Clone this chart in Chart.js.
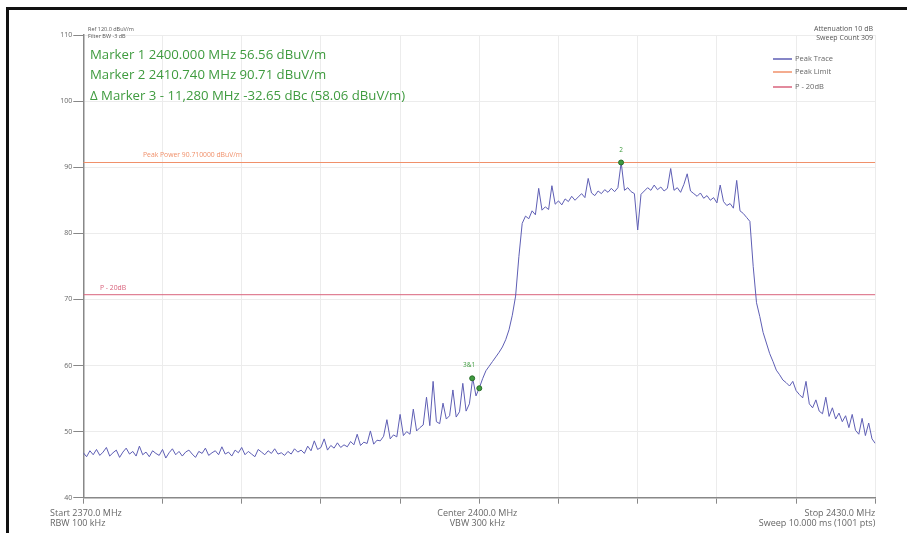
<!DOCTYPE html>
<html>
<head>
<meta charset="utf-8">
<script src="https://cdn.jsdelivr.net/npm/chart.js@4.4.0/dist/chart.umd.min.js"></script>
<style>
  html, body { margin: 0; padding: 0; background: #fff; }
  #wrap { position: relative; width: 907px; height: 533px; }
</style>
</head>
<body>
<div id="wrap"><canvas id="spec" width="907" height="533"></canvas></div>
<script>
// sweep grid (MHz)
const startFreq = 2370, stopFreq = 2430, freqStep = 0.25;

// peak trace, dBuV/m, one value per 0.25 MHz, 10 values per row
const peakTrace = [
  46.8, 46.2, 47.1, 46.5, 47.3, 46.4, 46.9, 47.6, 46.3, 46.8,
  47.2, 46.1, 46.9, 47.5, 46.6, 47.0, 46.3, 47.8, 46.5, 46.9,
  46.2, 47.1, 46.7, 46.4, 47.3, 46.0, 46.8, 47.4, 46.5, 47.0,
  46.3, 46.9, 47.2, 46.6, 46.1, 47.0, 46.7, 47.5, 46.4, 46.8,
  47.1, 46.5, 47.7, 46.6, 46.9, 46.3, 47.2, 46.8, 47.6, 46.5,
  47.0, 46.6, 46.2, 47.3, 46.9, 46.5, 47.1, 46.7, 47.4, 46.6,
  46.8, 46.4, 47.0, 46.6, 47.4, 46.9, 47.2, 46.7, 47.8, 47.1,
  48.6, 47.3, 47.6, 48.9, 47.2, 47.9, 47.5, 48.3, 47.6, 48.0,
  47.7, 48.5, 48.0, 49.6, 47.9, 48.4, 48.2, 50.1, 48.1, 48.7,
  48.6, 49.3, 51.8, 48.9, 49.5, 49.2, 52.6, 49.4, 50.0, 49.6,
  53.4, 50.1, 50.6, 51.0, 55.2, 50.9, 57.6, 51.5, 51.2, 54.3,
  51.9, 52.4, 56.3, 52.2, 53.0, 57.3, 53.1, 54.2, 58.1, 55.4,
  56.6, 58.0, 59.2, 59.9, 60.6, 61.3, 62.0, 62.8, 63.9, 65.4,
  67.6, 70.5, 76.5, 81.5, 82.6, 82.2, 83.4, 82.8, 86.8, 83.5,
  84.0, 83.6, 87.2, 84.4, 84.9, 84.3, 85.2, 84.8, 85.6, 85.0,
  85.5, 86.0, 85.4, 88.3, 86.1, 85.7, 86.4, 86.0, 86.6, 86.2,
  86.8, 86.3, 86.9, 90.71, 86.5, 86.9, 86.3, 86.0, 80.5, 85.9,
  86.4, 86.9, 86.5, 87.3, 86.6, 87.0, 86.4, 86.8, 89.8, 86.5,
  86.9, 86.2, 87.4, 89.0, 86.4, 86.0, 85.6, 86.1, 85.3, 85.7,
  85.0, 85.4, 84.6, 87.3, 84.8, 84.2, 84.5, 83.8, 88.0, 83.4,
  83.0, 82.4, 81.8, 75.0, 69.5, 67.4, 65.0, 63.4, 61.8, 60.6,
  59.3, 58.6, 57.8, 57.4, 56.9, 57.6, 56.2, 55.6, 55.1, 57.6,
  54.2, 53.6, 54.8, 53.1, 52.7, 55.2, 52.3, 53.6, 51.9, 52.8,
  51.5, 52.4, 50.6, 52.6, 50.2, 49.6, 52.0, 49.4, 51.3, 48.9,
  48.2
];

const markerFreqs = [2400.000, 2410.740, 2399.460];
const markerLevels = [56.56, 90.71, 58.06];

const peakLimit = 90.71;
const p20Limit = 70.71;

const yTicks = [40, 50, 60, 70, 80, 90, 100, 110];
const xTicks = [2370, 2376, 2382, 2388, 2394, 2400, 2406, 2412, 2418, 2424, 2430];

const infoLeft = ['Ref 120.0 dBuV/m', 'Filter BW -3 dB'];
const infoRight = ['Attenuation 10 dB', 'Sweep Count 309'];
const markerText = [
  'Marker 1 2400.000 MHz 56.56 dBuV/m',
  'Marker 2 2410.740 MHz 90.71 dBuV/m',
  '\u0394 Marker 3 - 11,280 MHz -32.65 dBc (58.06 dBuV/m)'
];
const bottomLeft = ['Start 2370.0 MHz', 'RBW 100 kHz'];
const bottomCenter = ['Center 2400.0 MHz', 'VBW 300 kHz'];
const bottomRight = ['Stop 2430.0 MHz', 'Sweep 10.000 ms (1001 pts)'];

const traceColor = '#5e5eb4';
const limitColor = '#f0906a';
const p20Color = '#d9637c';
const markerColor = '#3f9b3f';
const FONT = '"Open Sans", "Noto Sans", sans-serif';

const tracePoints = peakTrace.map((v, i) => ({ x: startFreq + i * freqStep, y: v }));

const overlay = {
  id: 'overlay',
  beforeDraw(chart) {
    const ctx = chart.ctx;
    ctx.save();
    ctx.fillStyle = '#fff';
    ctx.fillRect(0, 0, chart.width, chart.height);
    ctx.restore();
  },
  afterDraw(chart) {
    const { ctx, scales: { x, y } } = chart;
    ctx.save();

    // screenshot frame
    ctx.fillStyle = '#111';
    ctx.fillRect(6, 7, 901, 3);
    ctx.fillRect(6, 7, 3, 526);

    ctx.textBaseline = 'middle';

    // instrument info
    ctx.fillStyle = '#555';
    ctx.font = '5.5px ' + FONT;
    ctx.textAlign = 'left';
    ctx.fillText(infoLeft[0], 88, 29);
    ctx.fillText(infoLeft[1], 88, 36);
    ctx.font = '7px ' + FONT;
    ctx.textAlign = 'right';
    ctx.fillText(infoRight[0], 873, 29);
    ctx.fillText(infoRight[1], 873, 38);

    // marker readouts
    ctx.fillStyle = markerColor;
    ctx.font = '13.2px ' + FONT;
    ctx.textAlign = 'left';
    [55, 75, 96].forEach((ty, i) => ctx.fillText(markerText[i], 90, ty));

    // legend
    ctx.font = '7.5px ' + FONT;
    const leg = [[traceColor, 'Peak Trace', 59], [limitColor, 'Peak Limit', 72], [p20Color, 'P - 20dB', 87]];
    leg.forEach(([c, t, ty]) => {
      ctx.strokeStyle = c;
      ctx.lineWidth = 1.5;
      ctx.beginPath();
      ctx.moveTo(773, ty);
      ctx.lineTo(792, ty);
      ctx.stroke();
      ctx.fillStyle = '#666';
      ctx.fillText(t, 795, ty);
    });

    // limit labels
    ctx.font = '6.8px ' + FONT;
    ctx.fillStyle = limitColor;
    ctx.fillText('Peak Power 90.710000 dBuV/m', 143, y.getPixelForValue(peakLimit) - 7);
    ctx.fillStyle = p20Color;
    ctx.fillText('P - 20dB', 100, y.getPixelForValue(p20Limit) - 7);

    // marker tags
    ctx.fillStyle = markerColor;
    ctx.textAlign = 'center';
    ctx.font = '6.5px ' + FONT;
    ctx.fillText('2', x.getPixelForValue(markerFreqs[1]), y.getPixelForValue(markerLevels[1]) - 12);
    ctx.fillText('3&1', x.getPixelForValue(markerFreqs[2]) - 3, y.getPixelForValue(markerLevels[2]) - 13);

    // sweep info under the axis
    ctx.fillStyle = '#666';
    ctx.font = '9px ' + FONT;
    ctx.textAlign = 'left';
    ctx.fillText(bottomLeft[0], 50, 513);
    ctx.fillText(bottomLeft[1], 50, 523);
    ctx.textAlign = 'center';
    const cx = x.getPixelForValue(2400);
    ctx.fillText(bottomCenter[0], cx - 2, 513);
    ctx.fillText(bottomCenter[1], cx - 2, 523);
    ctx.textAlign = 'right';
    const rx = x.getPixelForValue(stopFreq);
    ctx.fillText(bottomRight[0], rx, 513);
    ctx.fillText(bottomRight[1], rx, 523);

    ctx.restore();
  }
};

new Chart(document.getElementById('spec'), {
  type: 'line',
  data: {
    datasets: [
      {
        label: 'Markers',
        type: 'scatter',
        data: markerFreqs.map((f, i) => ({ x: f, y: markerLevels[i] })),
        backgroundColor: markerColor,
        borderColor: '#2a6e2a',
        borderWidth: 1,
        pointRadius: 2.5,
        order: 0
      },
      {
        label: 'Peak Trace',
        data: tracePoints,
        borderColor: traceColor,
        borderWidth: 1,
        pointRadius: 0,
        tension: 0,
        fill: false,
        order: 1
      },
      {
        label: 'Peak Limit',
        data: [{ x: startFreq, y: peakLimit }, { x: stopFreq, y: peakLimit }],
        borderColor: limitColor,
        borderWidth: 1,
        pointRadius: 0,
        fill: false,
        order: 2
      },
      {
        label: 'P - 20dB',
        data: [{ x: startFreq, y: p20Limit }, { x: stopFreq, y: p20Limit }],
        borderColor: p20Color,
        borderWidth: 1,
        pointRadius: 0,
        fill: false,
        order: 3
      }
    ]
  },
  options: {
    responsive: false,
    animation: false,
    devicePixelRatio: 1,
    layout: { padding: { left: 0, right: 31.7, top: 35, bottom: 0 } },
    plugins: {
      legend: { display: false },
      tooltip: { enabled: false }
    },
    scales: {
      x: {
        type: 'linear',
        min: startFreq,
        max: stopFreq,
        afterBuildTicks: s => { s.ticks = xTicks.map(v => ({ value: v })); },
        afterFit: s => { s.height = 35.3; },
        ticks: { callback: () => '', font: { size: 1 } },
        grid: { color: '#ececec', tickColor: '#888', tickLength: 6, lineWidth: 1 },
        border: { color: '#888', width: 1.5 }
      },
      y: {
        min: 40,
        max: 110,
        afterBuildTicks: s => { s.ticks = yTicks.map(v => ({ value: v })); },
        afterFit: s => { s.width = 83.3; },
        ticks: { color: '#666', padding: 1, font: { size: 7, family: FONT } },
        grid: { color: '#ececec', tickColor: '#888', tickLength: 10, lineWidth: 1 },
        border: { color: '#888', width: 1.5 }
      }
    }
  },
  plugins: [overlay]
});
</script>
</body>
</html>
